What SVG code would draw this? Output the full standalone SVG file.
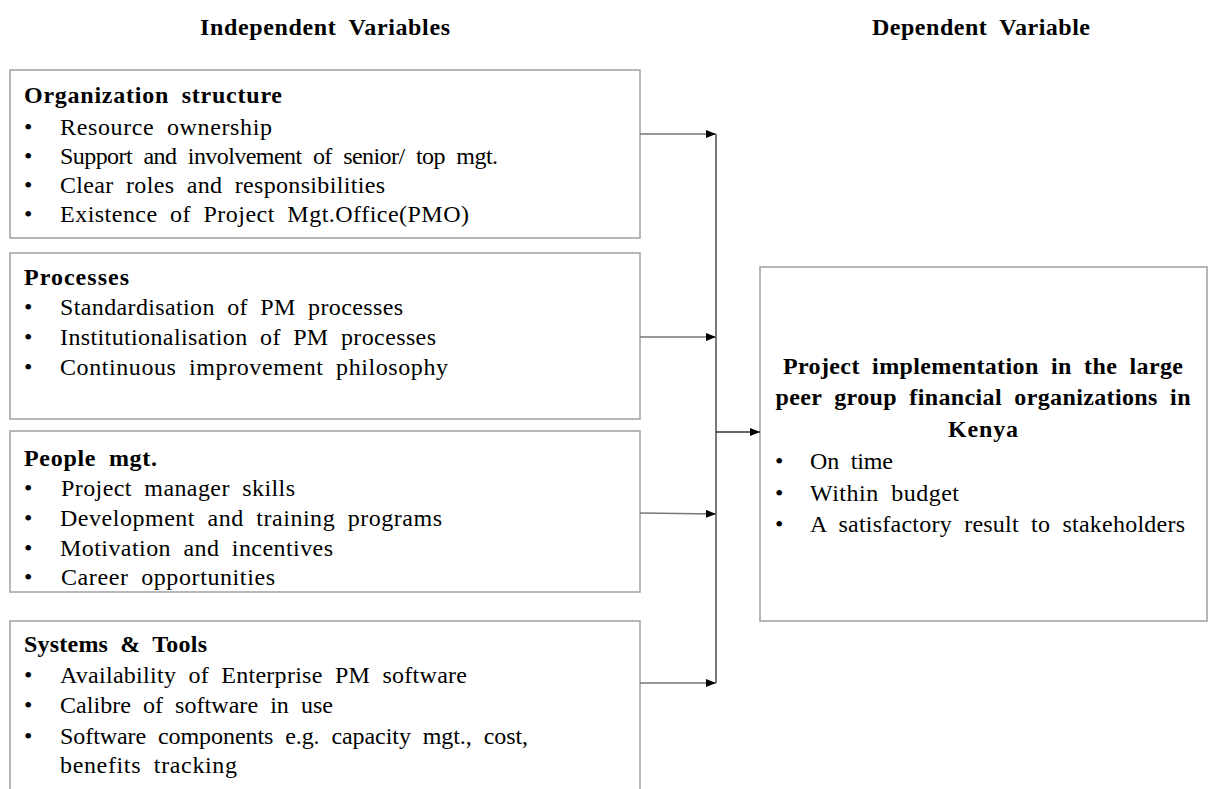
<svg xmlns="http://www.w3.org/2000/svg" width="1209" height="789" viewBox="0 0 1209 789">
<style>
.box{fill:#fff;stroke:#a6a6a6;stroke-width:1.6}
text{font-family:"Liberation Serif","Times New Roman",serif;font-size:24px;fill:#000;word-spacing:6px}
.b{font-weight:bold}
.c{stroke:#333;stroke-width:1.3;fill:none}
.h{stroke:#777;stroke-width:1.3;fill:none}
</style>
<defs>
<marker id="ah" viewBox="0 0 10 8" refX="10" refY="4" markerWidth="10" markerHeight="8" markerUnits="userSpaceOnUse" orient="auto">
<path d="M0,0 L10,4 L0,8 z" fill="#000"/>
</marker>
</defs>
<g id="titles">
<text class="b" x="325" y="35" text-anchor="middle" textLength="250" lengthAdjust="spacing">Independent Variables</text>
<text class="b" x="981" y="35" text-anchor="middle" textLength="218" lengthAdjust="spacing">Dependent Variable</text>
</g>
<g id="node-org">
<rect class="box" x="10" y="70" width="630" height="168"/>
<text class="b" x="24" y="103" textLength="258" lengthAdjust="spacing">Organization structure</text>
<text x="24" y="135">•</text><text x="60" y="135" textLength="212" lengthAdjust="spacing">Resource ownership</text>
<text x="24" y="164">•</text><text x="60" y="164" textLength="438" lengthAdjust="spacing">Support and involvement of senior/ top mgt.</text>
<text x="24" y="193">•</text><text x="60" y="193" textLength="325" lengthAdjust="spacing">Clear roles and responsibilities</text>
<text x="24" y="222">•</text><text x="60" y="222" textLength="409" lengthAdjust="spacing">Existence of Project Mgt.Office(PMO)</text>
</g>
<g id="node-processes">
<rect class="box" x="10" y="253" width="630" height="166"/>
<text class="b" x="24" y="285" textLength="105" lengthAdjust="spacing">Processes</text>
<text x="24" y="315">•</text><text x="60" y="315" textLength="343" lengthAdjust="spacing">Standardisation of PM processes</text>
<text x="24" y="345">•</text><text x="60" y="345" textLength="376" lengthAdjust="spacing">Institutionalisation of PM processes</text>
<text x="24" y="375">•</text><text x="60" y="375" textLength="388" lengthAdjust="spacing">Continuous improvement philosophy</text>
</g>
<g id="node-people">
<rect class="box" x="10" y="431" width="630" height="161"/>
<text class="b" x="24" y="466" textLength="133" lengthAdjust="spacing">People mgt.</text>
<text x="24" y="496">•</text><text x="61" y="496" textLength="234" lengthAdjust="spacing">Project manager skills</text>
<text x="24" y="526">•</text><text x="60" y="526" textLength="382" lengthAdjust="spacing">Development and training programs</text>
<text x="24" y="556">•</text><text x="60" y="556" textLength="273" lengthAdjust="spacing">Motivation and incentives</text>
<text x="24" y="585">•</text><text x="61" y="585" textLength="214" lengthAdjust="spacing">Career opportunities</text>
</g>
<g id="node-systems">
<rect class="box" x="10" y="621" width="630" height="190"/>
<text class="b" x="24" y="652" textLength="183" lengthAdjust="spacing">Systems &amp; Tools</text>
<text x="24" y="683">•</text><text x="60" y="683" textLength="407" lengthAdjust="spacing">Availability of Enterprise PM software</text>
<text x="24" y="713">•</text><text x="60" y="713" textLength="273" lengthAdjust="spacing">Calibre of software in use</text>
<text x="24" y="744">•</text><text x="60" y="744" textLength="468" lengthAdjust="spacing">Software components e.g. capacity mgt., cost,</text>
<text x="60" y="773" textLength="177" lengthAdjust="spacing">benefits tracking</text>
</g>
<g id="node-dependent">
<rect class="box" x="760" y="267" width="447" height="354"/>
<text class="b" x="983" y="374" text-anchor="middle" textLength="400" lengthAdjust="spacing">Project implementation in the large</text>
<text class="b" x="983" y="405" text-anchor="middle" textLength="415" lengthAdjust="spacing">peer group financial organizations in</text>
<text class="b" x="983" y="437" text-anchor="middle" textLength="70" lengthAdjust="spacing">Kenya</text>
<text x="775" y="469">•</text><text x="810" y="469" textLength="83" lengthAdjust="spacing">On time</text>
<text x="775" y="501">•</text><text x="810" y="501" textLength="149" lengthAdjust="spacing">Within budget</text>
<text x="775" y="532">•</text><text x="810" y="532" textLength="375" lengthAdjust="spacing">A satisfactory result to stakeholders</text>
</g>
<g id="connectors">
<line class="c" x1="716" y1="134" x2="716" y2="683"/>
<line class="h" x1="640" y1="134" x2="716" y2="134" marker-end="url(#ah)"/>
<line class="h" x1="640" y1="337" x2="716" y2="337" marker-end="url(#ah)"/>
<line class="h" x1="640" y1="513" x2="716" y2="514" marker-end="url(#ah)"/>
<line class="h" x1="640" y1="683" x2="716" y2="683" marker-end="url(#ah)"/>
<line class="c" x1="716" y1="432" x2="760" y2="432" marker-end="url(#ah)"/>
</g>
</svg>
